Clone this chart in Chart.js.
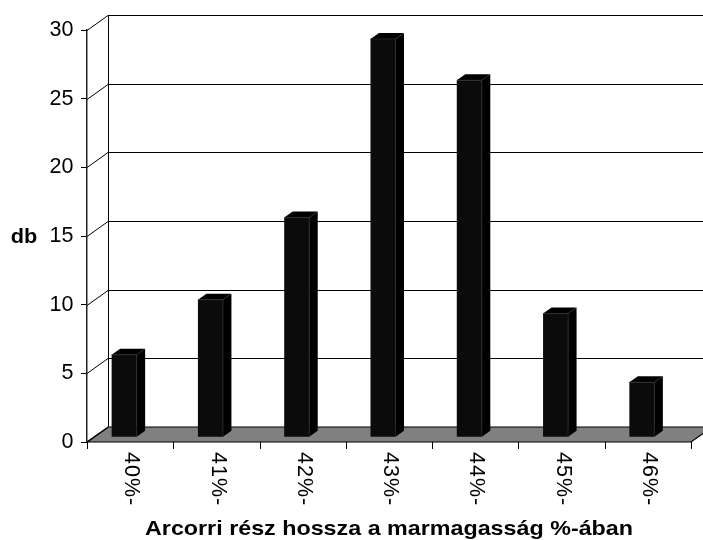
<!DOCTYPE html>
<html>
<head>
<meta charset="utf-8">
<script src="https://cdn.jsdelivr.net/npm/chart.js@4/dist/chart.umd.min.js"></script>
<style>
  html, body { margin: 0; padding: 0; background: #fff; }
  canvas { display: block; }
</style>
</head>
<body>
<canvas id="c" width="703" height="540"></canvas>
<script>
// Distribution of face-length ratio classes
const categories = ['40%-', '41%-', '42%-', '43%-', '44%-', '45%-', '46%-'];
const counts = [6, 10, 16, 29, 26, 9, 4];
const yMin = 0;
const yMax = 30;
const yStep = 5;
const yTitle = 'db';
const xTitle = 'Arcorri rész hossza a marmagasság %-ában';

// 3D projection of the plot box (back wall offset) and of the columns
const WALL_DX = 21, WALL_DY = 15;
const BAR_SHIFT_X = -6, BAR_SHIFT_Y = -4.8;
const BAR_DX = 8.5, BAR_DY = 6;
const FONT = "'Liberation Sans', Arial, sans-serif";

function setSpacing(ctx, v) {
  if ('letterSpacing' in ctx) ctx.letterSpacing = v;
}

// draws text centred on cx, widened horizontally to the given width
function wideText(ctx, text, cx, baseline, width) {
  const m = ctx.measureText(text).width;
  const k = width / m;
  ctx.save();
  ctx.translate(cx, baseline);
  ctx.scale(k, 1);
  ctx.textAlign = 'center';
  ctx.textBaseline = 'alphabetic';
  ctx.fillText(text, 0, 0);
  ctx.restore();
}

const box3d = {
  id: 'box3d',
  beforeDatasetsDraw(chart) {
    const { ctx, chartArea: a, scales: { y } } = chart;
    const y0 = y.getPixelForValue(yMin);
    ctx.save();
    // floor
    ctx.beginPath();
    ctx.moveTo(a.left, y0);
    ctx.lineTo(a.right, y0);
    ctx.lineTo(a.right + WALL_DX, y0 - WALL_DY);
    ctx.lineTo(a.left + WALL_DX, y0 - WALL_DY);
    ctx.closePath();
    ctx.fillStyle = '#808080';
    ctx.fill();
    ctx.strokeStyle = '#000';
    ctx.lineWidth = 1.2;
    ctx.stroke();
    // back wall gridlines and the side-wall connectors
    ctx.lineWidth = 1;
    ctx.strokeStyle = '#000';
    y.ticks.forEach(t => {
      const py = Math.round(y.getPixelForValue(t.value)) + 0.5;
      ctx.beginPath();
      ctx.moveTo(a.left, py);
      ctx.lineTo(a.left + WALL_DX, py - WALL_DY);
      if (t.value > yMin) ctx.lineTo(chart.width + 20, py - WALL_DY);
      ctx.stroke();
    });
    // back wall left edge
    const bx = Math.round(a.left + WALL_DX) + 0.5;
    ctx.beginPath();
    ctx.moveTo(bx, y.getPixelForValue(yMax) - WALL_DY);
    ctx.lineTo(bx, y0 - WALL_DY);
    ctx.stroke();
    ctx.restore();
    // columns stand in the middle of the floor depth
    ctx.save();
    ctx.translate(BAR_SHIFT_X, BAR_SHIFT_Y);
  },
  afterDatasetsDraw(chart) {
    const { ctx, chartArea: a, scales: { x } } = chart;
    const meta = chart.getDatasetMeta(0);
    meta.data.forEach(bar => {
      const p = bar.getProps(['x', 'y', 'base', 'width'], true);
      const L = p.x - p.width / 2, R = p.x + p.width / 2;
      const top = p.y, base = p.base;
      // right side face
      ctx.beginPath();
      ctx.moveTo(R, top);
      ctx.lineTo(R + BAR_DX, top - BAR_DY);
      ctx.lineTo(R + BAR_DX, base - BAR_DY);
      ctx.lineTo(R, base);
      ctx.closePath();
      ctx.fillStyle = '#000';
      ctx.fill();
      // top face
      ctx.beginPath();
      ctx.moveTo(L, top);
      ctx.lineTo(L + BAR_DX, top - BAR_DY);
      ctx.lineTo(R + BAR_DX, top - BAR_DY);
      ctx.lineTo(R, top);
      ctx.closePath();
      ctx.fill();
      // face edges
      ctx.strokeStyle = '#2b2b2b';
      ctx.lineWidth = 0.8;
      ctx.beginPath();
      ctx.moveTo(R, base);
      ctx.lineTo(R, top);
      ctx.lineTo(L, top);
      ctx.stroke();
    });
    ctx.restore();

    // category tick marks under the floor front edge
    const n = categories.length;
    const w = (a.right - a.left) / n;
    ctx.save();
    ctx.strokeStyle = '#000';
    ctx.lineWidth = 1;
    for (let i = 0; i <= n; i++) {
      const px = Math.round(a.left + i * w) + 0.5;
      ctx.beginPath();
      ctx.moveTo(px, a.bottom);
      ctx.lineTo(px, a.bottom + 7);
      ctx.stroke();
    }
    // rotated category labels (reading downward)
    ctx.fillStyle = '#000';
    ctx.font = '21.5px ' + FONT;
    setSpacing(ctx, '1px');
    ctx.textAlign = 'left';
    ctx.textBaseline = 'middle';
    categories.forEach((lab, i) => {
      const cx = x.getPixelForValue(i);
      ctx.save();
      ctx.translate(cx + 1, a.bottom + 10);
      ctx.rotate(Math.PI / 2);
      ctx.fillText(lab, 0, 0);
      ctx.restore();
    });
    // axis titles
    setSpacing(ctx, '0px');
    ctx.font = 'bold 21px ' + FONT;
    wideText(ctx, xTitle, (a.left + a.right) / 2, 535, 488);
    ctx.font = 'bold 20.5px ' + FONT;
    wideText(ctx, yTitle, 24, 242.5, 26.5);
    ctx.restore();
  }
};

new Chart(document.getElementById('c'), {
  type: 'bar',
  data: {
    labels: categories,
    datasets: [{
      data: counts,
      backgroundColor: '#0b0b0b',
      borderWidth: 0,
      categoryPercentage: 1,
      barPercentage: 0.29,
      clip: false
    }]
  },
  options: {
    responsive: false,
    devicePixelRatio: 1,
    animation: false,
    layout: { padding: { top: 30, right: 12, left: 0, bottom: 0 } },
    plugins: { legend: { display: false }, tooltip: { enabled: false } },
    scales: {
      x: {
        type: 'category',
        offset: true,
        grid: { display: false },
        border: { display: false },
        ticks: { display: false },
        afterFit(s) { s.height = 98; }
      },
      y: {
        min: yMin,
        max: yMax,
        ticks: {
          stepSize: yStep,
          color: '#000',
          padding: 7.5,
          font: { family: FONT, size: 21.5 }
        },
        grid: { drawOnChartArea: false, drawTicks: true, tickLength: 6, color: '#000', lineWidth: 1 },
        border: { display: true, color: '#222', width: 1.5 },
        afterFit(s) { s.width = 87; }
      }
    }
  },
  plugins: [box3d]
});
</script>
</body>
</html>
